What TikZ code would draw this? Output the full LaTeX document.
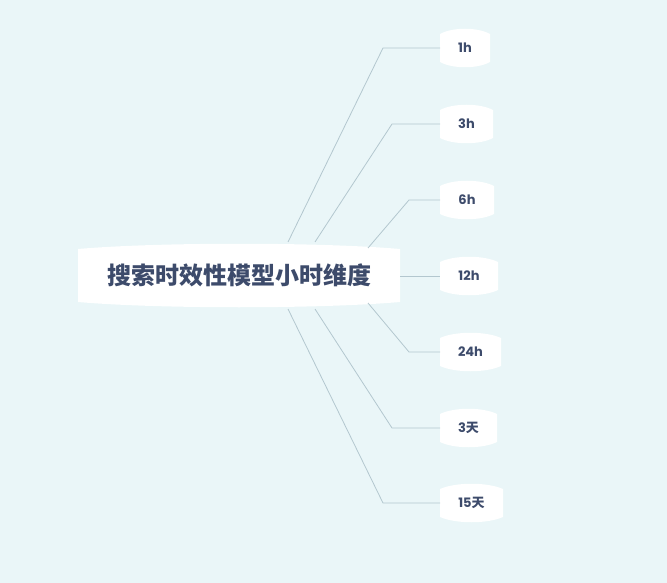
\documentclass[tikz,border=0pt]{standalone}
\usepackage{fontspec}
\setmainfont{Poppins}
\newfontfamily\cjk{Noto Sans CJK SC}
\usetikzlibrary{calc}
\definecolor{bgcol}{HTML}{EAF6F8}
\definecolor{txtcol}{HTML}{3D4B6B}
\definecolor{linecol}{HTML}{B3C7CF}
\newcommand{\bulgebox}[5]{% x1, x2, ytop, ybottom, bulge
  \fill[white] (#1,#3+#5) .. controls ({#1+(#2-#1)/4},#3) and ({#2-(#2-#1)/4},#3) .. (#2,#3+#5)
    -- (#2,#4-#5) .. controls ({#2-(#2-#1)/4},#4) and ({#1+(#2-#1)/4},#4) .. (#1,#4-#5) -- cycle;}
\begin{document}
\begin{tikzpicture}
  [
  x=1pt, y=-1pt,
  leaf/.style={font=\bfseries\fontsize{13}{15}\selectfont, text=txtcol, inner sep=0pt},
  link/.style={draw=linecol, line width=0.8pt}
  ]

\fill[bgcol] (0,0) rectangle (667,583);

\bulgebox{78}{400}{242}{309}{7}
\node[font=\bfseries\fontsize{24}{28}\selectfont\cjk, text=txtcol, minimum width=322pt, minimum height=67pt, inner sep=0pt] (root) at (239,275.5) {搜索时效性模型小时维度};

% leaves: name/label/right edge/y/start x/start y/elbow x
\foreach \n/\t/\r/\y/\sx/\sy/\ex in {a/1h/490/48/288/242/383, b/3h/493/124/315/242/392, c/6h/494/200/368/248/409, d/12h/498/276/400/276/400, e/24h/501/352/368/303/409, f/3{\cjk 天}/497/428/315/309/392, g/15{\cjk 天}/503/503/288/309/383} {
  \bulgebox{440}{\r}{\y-21}{\y+21}{7}
  \node[leaf] (\n) at ({(440+\r)/2},\y) {\t};
  \coordinate (\n w) at (440,\y);
  \coordinate (\n s) at (\sx,\sy);
  \draw[link] (\n s) -- (\ex,\y) -- (\n w);
}

\end{tikzpicture}
\end{document}
